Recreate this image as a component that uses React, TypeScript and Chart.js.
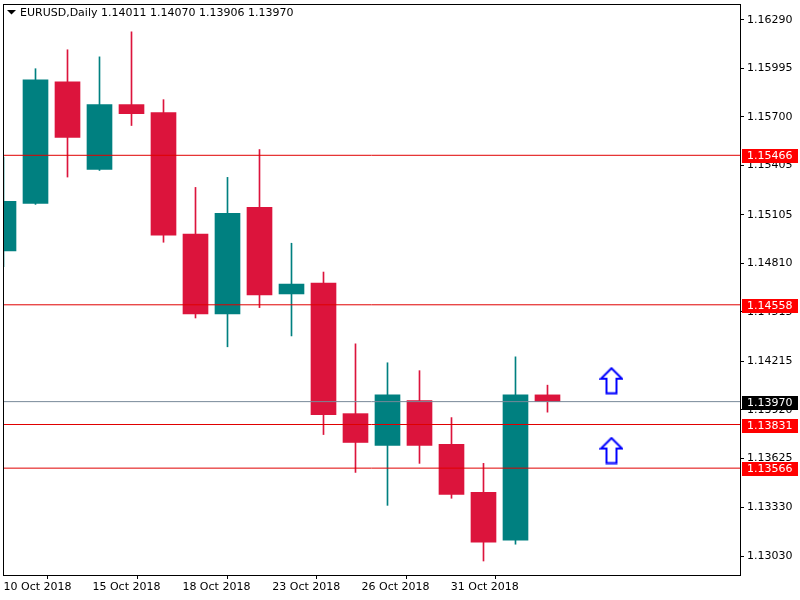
import React, { useEffect, useRef } from "react";
import { Chart, registerables } from "chart.js";

Chart.register(...registerables);

// ---- data ----
const candleDates = [
  "10 Oct 2018", "11 Oct 2018", "12 Oct 2018", "15 Oct 2018", "16 Oct 2018", "17 Oct 2018",
  "18 Oct 2018", "19 Oct 2018", "22 Oct 2018", "23 Oct 2018", "24 Oct 2018", "25 Oct 2018",
  "26 Oct 2018", "29 Oct 2018", "30 Oct 2018", "31 Oct 2018", "1 Nov 2018", "2 Nov 2018",
];
const opens = [1.14886, 1.15174, 1.15913, 1.15380, 1.15774, 1.15725, 1.14987, 1.14503, 1.15150, 1.14624, 1.14690, 1.13897, 1.13704, 1.13976, 1.13710, 1.13419, 1.13129, 1.14011];
const highs = [1.15455, 1.15992, 1.16107, 1.16064, 1.16216, 1.15804, 1.15271, 1.15332, 1.15501, 1.14932, 1.14757, 1.14321, 1.14206, 1.14158, 1.13873, 1.13595, 1.14242, 1.14070];
const lows = [1.14789, 1.15168, 1.15334, 1.15374, 1.15647, 1.14938, 1.14478, 1.14303, 1.14541, 1.14369, 1.13770, 1.13540, 1.13340, 1.13595, 1.13383, 1.13002, 1.13104, 1.13906];
const closes = [1.15187, 1.15925, 1.15574, 1.15774, 1.15719, 1.14981, 1.14503, 1.15114, 1.14618, 1.14684, 1.13891, 1.13722, 1.14012, 1.13704, 1.13407, 1.13117, 1.14012, 1.13970];

const yTickValues = [1.16290, 1.15995, 1.15700, 1.15405, 1.15105, 1.14810, 1.14515, 1.14215, 1.13920, 1.13625, 1.13330, 1.13030];
const xTickPositions = [0, 2.78, 5.59, 8.4, 11.19, 13.98];
const xTickLabels = ["10 Oct 2018", "15 Oct 2018", "18 Oct 2018", "23 Oct 2018", "26 Oct 2018", "31 Oct 2018"];

const levelLines = [1.15466, 1.14558, 1.13831, 1.13566];
const bidLine = 1.13970;
const arrowX = [19, 19];
const arrowY = [1.14097, 1.13673];

const symbolTitle = "EURUSD,Daily";
const titleValues = "1.14011 1.14070 1.13906 1.13970";

const X_MIN = -0.0156;
const X_MAX = 23.016;
const Y_MIN = 1.12917;
const Y_MAX = 1.16385;

const UP = "#008080";
const DOWN = "#DC143C";
const FONT = "'DejaVu Sans', sans-serif";

function makeArrow(): HTMLCanvasElement {
  const c = document.createElement("canvas");
  c.width = 24;
  c.height = 28;
  const g = c.getContext("2d")!;
  g.beginPath();
  g.moveTo(12, 1.5);
  g.lineTo(22.5, 12);
  g.lineTo(17, 12);
  g.lineTo(17, 26.5);
  g.lineTo(7, 26.5);
  g.lineTo(7, 12);
  g.lineTo(1.5, 12);
  g.closePath();
  g.fillStyle = "#fff";
  g.fill();
  g.strokeStyle = "#0000ff";
  g.lineWidth = 2;
  g.stroke();
  return c;
}

const overlayPlugin = {
  id: "mt4overlay",
  afterDraw(chart: any) {
    const { ctx, chartArea: a, scales } = chart;
    const y = scales.y;
    ctx.save();
    // frame
    ctx.strokeStyle = "#000";
    ctx.lineWidth = 1;
    ctx.strokeRect(Math.round(a.left) + 0.5, Math.round(a.top) + 0.5, Math.round(a.right - a.left), Math.round(a.bottom - a.top));
    // price tags
    ctx.font = `11px ${FONT}`;
    ctx.textBaseline = "middle";
    ctx.textAlign = "left";
    const tags = [
      ...levelLines.map((v) => ({ v, bg: "#ff0000" })),
      { v: bidLine, bg: "#000000" },
    ];
    tags.forEach(({ v, bg }) => {
      const py = Math.round(y.getPixelForValue(v));
      ctx.fillStyle = bg;
      ctx.fillRect(742, py - 6, 56, 14);
      ctx.fillStyle = "#fff";
      ctx.fillText(v.toFixed(5), 747, py + 1);
    });
    // title
    ctx.fillStyle = "#000";
    ctx.beginPath();
    ctx.moveTo(7, 10);
    ctx.lineTo(16, 10);
    ctx.lineTo(11.5, 14.5);
    ctx.closePath();
    ctx.fill();
    ctx.font = `11px ${FONT}`;
    ctx.fillText(symbolTitle, 20, 13);
    ctx.fillText(titleValues, 101, 13);
    ctx.restore();
  },
};

export default function App() {
  const ref = useRef<HTMLCanvasElement>(null);

  useEffect(() => {
    if (!ref.current) return;
    const colors = opens.map((o, i) => (closes[i] >= o ? UP : DOWN));
    const bodies = candleDates.map((_, i) => ({ x: i, y: [opens[i], closes[i]] }));
    const wicks = candleDates.map((_, i) => ({ x: i, y: [lows[i], highs[i]] }));
    const arrowImg = makeArrow();

    const lineDs = (v: number, color: string) => ({
      type: "line" as const,
      data: [{ x: X_MIN - 5, y: v }, { x: X_MAX + 5, y: v }],
      borderColor: color,
      borderWidth: 1,
      pointRadius: 0,
      fill: false,
    });

    const chart = new Chart(ref.current, {
      type: "bar",
      data: {
        datasets: [
          ...levelLines.map((v) => lineDs(v, "#e00000")),
          lineDs(bidLine, "#778899"),
          {
            type: "line" as const,
            data: arrowX.map((x, i) => ({ x, y: arrowY[i] })),
            showLine: false,
            pointStyle: arrowImg,
            pointRadius: 12,
          },
          {
            type: "bar" as const,
            data: bodies as any,
            backgroundColor: colors,
            borderWidth: 0,
            barThickness: 25,
            grouped: false,
          },
          {
            type: "bar" as const,
            data: wicks as any,
            backgroundColor: colors,
            borderWidth: 0,
            barThickness: 1,
            grouped: false,
          },
        ] as any,
      },
      options: {
        animation: false,
        responsive: false,
        events: [],
        layout: { autoPadding: false, padding: { left: 3, top: 4, right: 0, bottom: 0 } },
        plugins: { legend: { display: false }, tooltip: { enabled: false }, title: { display: false } },
        scales: {
          x: {
            type: "linear",
            min: X_MIN,
            max: X_MAX,
            offset: false,
            border: { display: false },
            grid: { drawOnChartArea: false, drawTicks: true, tickLength: 4, color: "#000" },
            ticks: {
              autoSkip: false,
              maxRotation: 0,
              align: "start",
              padding: 2,
              color: "#000",
              font: { family: FONT, size: 11 },
              callback: (_v: any, i: number) => xTickLabels[i],
            },
            afterBuildTicks: (s: any) => {
              s.ticks = xTickPositions.map((v) => ({ value: v }));
            },
            afterFit: (s: any) => {
              s.height = 25;
              s.paddingLeft = 0;
              s.paddingRight = 0;
            },
          },
          y: {
            type: "linear",
            position: "right",
            min: Y_MIN,
            max: Y_MAX,
            bounds: "data",
            beginAtZero: false,
            border: { display: false },
            grid: { drawOnChartArea: false, drawTicks: true, tickLength: 4, color: "#000" },
            ticks: {
              autoSkip: false,
              padding: 3,
              color: "#000",
              font: { family: FONT, size: 11 },
              callback: (v: any) => Number(v).toFixed(5),
            },
            afterBuildTicks: (s: any) => {
              s.ticks = yTickValues.map((v) => ({ value: v }));
            },
            afterFit: (s: any) => {
              s.width = 60;
              s.paddingTop = 0;
              s.paddingBottom = 0;
            },
          },
        },
      } as any,
      plugins: [overlayPlugin],
    });
    return () => chart.destroy();
  }, []);

  return (
    <div style={{ position: "absolute", left: 0, top: 0, width: 800, height: 600, background: "#fff" }}>
      <canvas ref={ref} width={800} height={600} />
    </div>
  );
}
